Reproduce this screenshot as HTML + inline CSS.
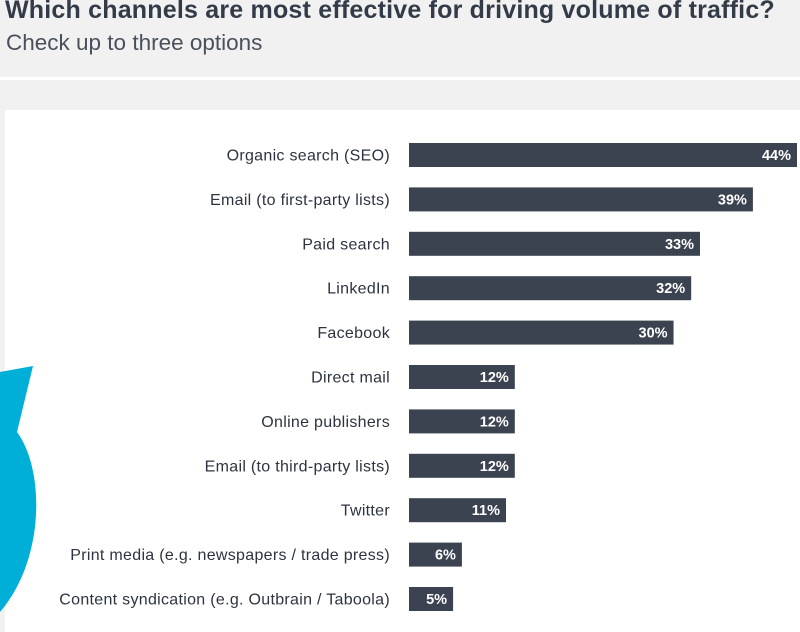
<!DOCTYPE html>
<html><head><meta charset="utf-8"><style>
body{margin:0;width:800px;height:632px;background:#f1f1f1;font-family:"Liberation Sans",sans-serif;position:relative;overflow:hidden}
#title{position:absolute;left:5px;top:-4px;font-size:25px;font-weight:bold;color:#343b48;white-space:nowrap;letter-spacing:0.2px}
#sub{position:absolute;left:6px;top:30px;font-size:22.5px;color:#4a505a;white-space:nowrap}
#sep{position:absolute;left:0;top:77px;width:800px;height:3px;background:#fff}
#panel{position:absolute;left:5px;top:110px;width:795px;height:522px;background:#fff}
svg{position:absolute;left:0;top:0}
</style></head><body>
<div id="title">Which channels are most effective for driving volume of traffic?</div>
<div id="sub">Check up to three options</div>
<div id="sep"></div>
<div id="panel"></div>
<svg id="chart" width="800" height="632">
<path fill="#00afd7" d="M0,372 L33,366 L17,432 C45,470 45,560 0,612 Z"/>
</svg>
<script>
const categories=["Organic search (SEO)","Email (to first-party lists)","Paid search","LinkedIn","Facebook","Direct mail","Online publishers","Email (to third-party lists)","Twitter","Print media (e.g. newspapers / trade press)","Content syndication (e.g. Outbrain / Taboola)"];
const values=[44,39,33,32,30,12,12,12,11,6,5];
const x0=409,pxPer=388/44,y0=143,step=44.4,bh=24;
const xs=v=>v*pxPer;
const ys=i=>y0+i*step;
const svg=document.getElementById('chart');
const ns='http://www.w3.org/2000/svg';
values.forEach((v,i)=>{
  const r=document.createElementNS(ns,'rect');
  r.setAttribute('x',x0);r.setAttribute('y',ys(i));r.setAttribute('width',xs(v));r.setAttribute('height',bh);r.setAttribute('fill','#3c4350');
  
  
  svg.appendChild(r);
  const t=document.createElementNS(ns,'text');
  t.setAttribute('x',x0+xs(v)-6);t.setAttribute('y',ys(i)+bh/2+5);t.setAttribute('text-anchor','end');
  t.setAttribute('fill','#fff');t.setAttribute('font-size','14.5');t.setAttribute('font-weight','bold');
  t.textContent=v+'%';
  
  
  svg.appendChild(t);
  const l=document.createElementNS(ns,'text');
  l.setAttribute('x',390);l.setAttribute('y',ys(i)+bh/2+5.5);l.setAttribute('text-anchor','end');
  l.setAttribute('fill','#2d3340');l.setAttribute('font-size','16');
  l.setAttribute('letter-spacing','0.3');
  l.textContent=categories[i];
  
  
  svg.appendChild(l);
});
</script>
</body></html>
